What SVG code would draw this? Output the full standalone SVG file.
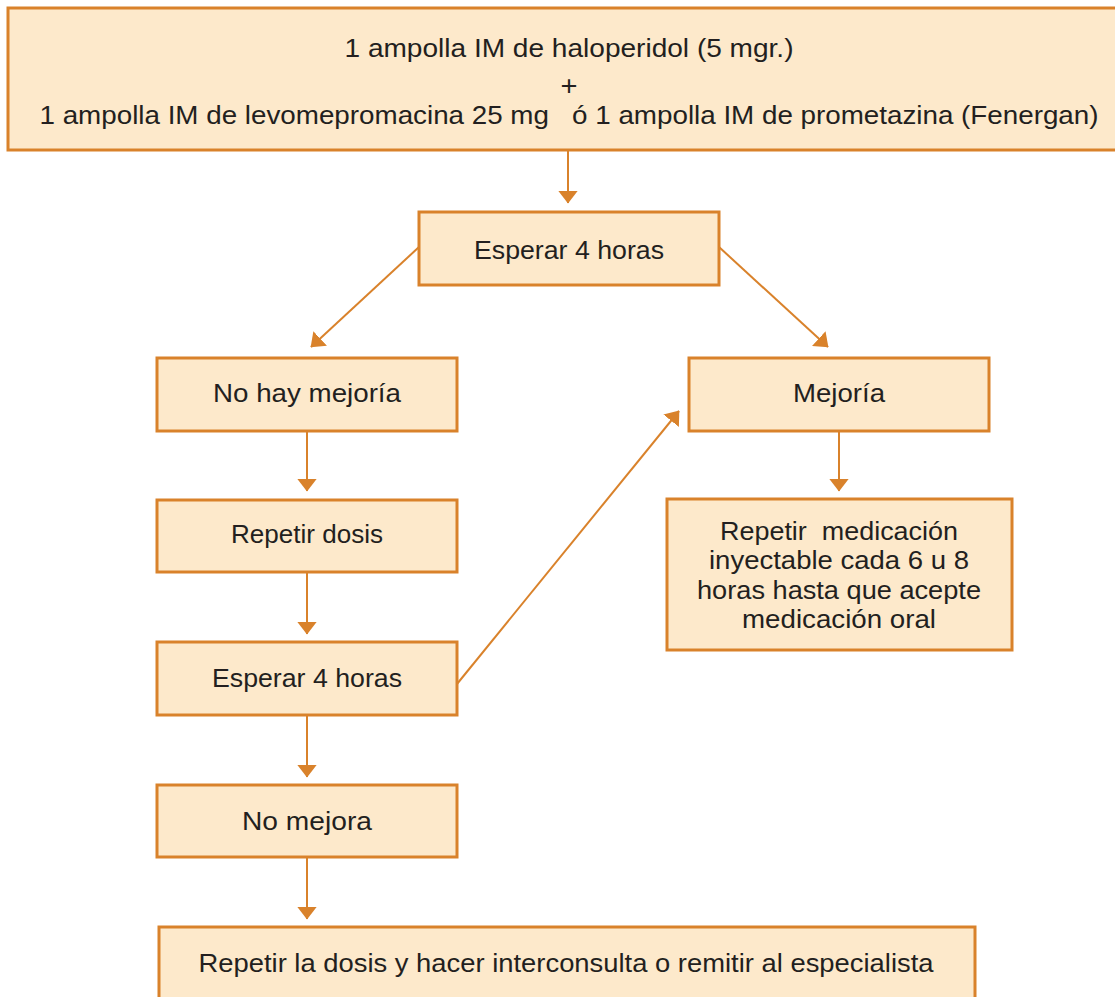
<svg xmlns="http://www.w3.org/2000/svg" width="1115" height="997" viewBox="0 0 1115 997">
<style>
.box{fill:#FDE9CB;stroke:#D9822B;stroke-width:3}
.t{font-family:"Liberation Sans","DejaVu Sans",sans-serif;font-size:25px;fill:#231F20;text-anchor:middle}
.big{font-size:26px}
.plus{font-size:28px}
.c{stroke:#D9822B;stroke-width:2;fill:none}
</style>
<defs>
<marker id="ah" markerWidth="13" markerHeight="20" refX="12.5" refY="10" orient="auto" markerUnits="userSpaceOnUse">
<path d="M0,0 L13,10 L0,20 Z" fill="#D9822B"/>
</marker>
</defs>
<rect width="1115" height="997" fill="#ffffff"/>
<g id="connectors">
<line class="c" x1="568" y1="151" x2="568" y2="203" marker-end="url(#ah)"/>
<line class="c" x1="419" y1="247" x2="311" y2="347" marker-end="url(#ah)"/>
<line class="c" x1="719" y1="247" x2="828" y2="347" marker-end="url(#ah)"/>
<line class="c" x1="307" y1="432" x2="307" y2="491" marker-end="url(#ah)"/>
<line class="c" x1="307" y1="573" x2="307" y2="634" marker-end="url(#ah)"/>
<line class="c" x1="457" y1="684" x2="679" y2="411" marker-end="url(#ah)"/>
<line class="c" x1="307" y1="716" x2="307" y2="777" marker-end="url(#ah)"/>
<line class="c" x1="307" y1="858" x2="307" y2="919" marker-end="url(#ah)"/>
<line class="c" x1="839" y1="432" x2="839" y2="491" marker-end="url(#ah)"/>
</g>
<g id="n-top">
<rect class="box" x="8" y="8" width="1110" height="142"/>
<text class="t big" x="569" y="57" textLength="449" lengthAdjust="spacingAndGlyphs">1 ampolla IM de haloperidol (5 mgr.)</text>
<text class="t plus" x="569" y="95" textLength="17" lengthAdjust="spacingAndGlyphs">+</text>
<text class="t" x="569" y="124" xml:space="preserve" textLength="1059" lengthAdjust="spacingAndGlyphs">1 ampolla IM de levomepromacina 25 mg   ó 1 ampolla IM de prometazina (Fenergan)</text>
</g>
<g id="n-esperar1">
<rect class="box" x="419" y="212" width="300" height="73"/>
<text class="t" x="569" y="259" textLength="190" lengthAdjust="spacingAndGlyphs">Esperar 4 horas</text>
</g>
<g id="n-nohay">
<rect class="box" x="157" y="358" width="300" height="73"/>
<text class="t" x="307" y="402" textLength="188" lengthAdjust="spacingAndGlyphs">No hay mejoría</text>
</g>
<g id="n-mejoria">
<rect class="box" x="689" y="358" width="300" height="73"/>
<text class="t" x="839" y="402" textLength="92" lengthAdjust="spacingAndGlyphs">Mejoría</text>
</g>
<g id="n-repetir">
<rect class="box" x="157" y="500" width="300" height="72"/>
<text class="t" x="307" y="543" textLength="152" lengthAdjust="spacingAndGlyphs">Repetir dosis</text>
</g>
<g id="n-esperar2">
<rect class="box" x="157" y="642" width="300" height="73"/>
<text class="t" x="307" y="687" textLength="190" lengthAdjust="spacingAndGlyphs">Esperar 4 horas</text>
</g>
<g id="n-nomejora">
<rect class="box" x="157" y="785" width="300" height="72"/>
<text class="t" x="307" y="830" textLength="130" lengthAdjust="spacingAndGlyphs">No mejora</text>
</g>
<g id="n-final">
<rect class="box" x="159" y="927" width="816" height="80"/>
<text class="t" x="566" y="972" textLength="735" lengthAdjust="spacingAndGlyphs">Repetir la dosis y hacer interconsulta o remitir al especialista</text>
</g>
<g id="n-medicacion">
<rect class="box" x="667" y="499" width="345" height="151"/>
<text class="t" x="839" y="540" xml:space="preserve" textLength="238" lengthAdjust="spacingAndGlyphs">Repetir  medicación</text>
<text class="t" x="839" y="569" textLength="260" lengthAdjust="spacingAndGlyphs">inyectable cada 6 u 8</text>
<text class="t" x="839" y="599" textLength="284" lengthAdjust="spacingAndGlyphs">horas hasta que acepte</text>
<text class="t" x="839" y="628" textLength="194" lengthAdjust="spacingAndGlyphs">medicación oral</text>
</g>
</svg>
